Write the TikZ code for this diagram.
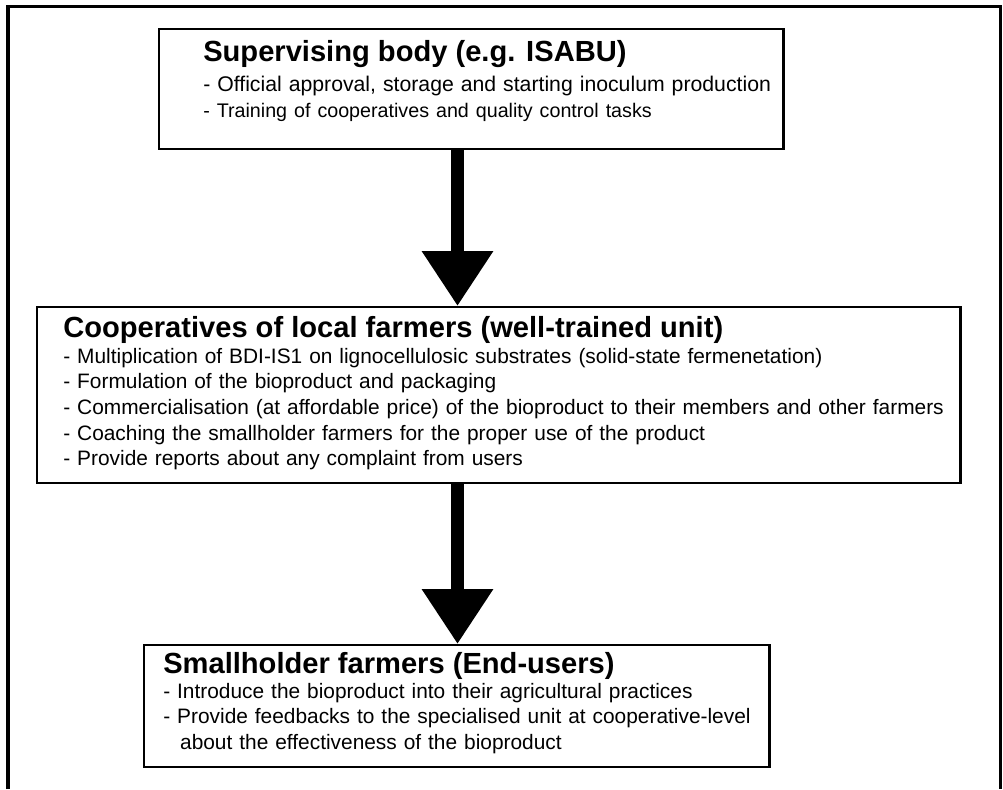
\documentclass[tikz,border=0pt]{standalone}
\usepackage{fontspec}
\setmainfont{Liberation Sans}
\usetikzlibrary{arrows.meta}

\tikzset{
  box/.style={draw, line width=1.7pt, anchor=north west, inner sep=0pt},
  boxtitle/.style={anchor=base west, inner sep=0pt, font=\fontsize{20.7}{25}\selectfont\bfseries},
  boxitems/.style={anchor=base west, inner sep=0pt, align=left, font=\fontsize{14.85}{18.2}\selectfont},
  flow/.style={line width=9.25pt, -{Triangle[width=48.4pt,length=39.1pt]}}
}

\begin{document}
\begin{tikzpicture}[x=0.025cm,y=-0.025cm]
  \useasboundingbox (0,0) rectangle (1003,789);
  % open frame, no bottom edge
  \draw[line width=2.2pt] (8,789) -- (8,6.5) -- (1000.5,6.5) -- (1000.5,789);

  % supervising body
  \node[box, minimum width=15.6cm, minimum height=3cm] (sup) at (158,28) {};
  \node[boxtitle] (suptitle) at (203,61.7) {Supervising body (e.g. ISABU)};
  \node[boxitems, text width=14.5cm] (supitems) at (203,91.7)
    {\fontsize{15.1}{18.9}\selectfont - Official approval, storage and starting inoculum production\\
     \fontsize{14}{18.9}\selectfont - Training of cooperatives and quality control tasks};

  % cooperatives
  \node[box, minimum width=23.075cm, minimum height=4.4cm] (coop) at (36,306) {};
  \node[boxtitle] (cooptitle) at (63,337.3) {Cooperatives of local farmers (well-trained unit)};
  \node[boxitems, text width=22.5cm] (coopitems) at (63,363.3)
    {- Multiplication of BDI-IS1 on lignocellulosic substrates (solid-state fermenetation)\\
     - Formulation of the bioproduct and packaging\\
     - Commercialisation (at affordable price) of the bioproduct to their members and other farmers\\
     - Coaching the smallholder farmers for the proper use of the product\\
     - Provide reports about any complaint from users};

  % end-users
  \node[box, minimum width=15.625cm, minimum height=3.05cm] (farm) at (143,644) {};
  \node[boxtitle] (farmtitle) at (163,673.3) {Smallholder farmers (End-users)};
  \node[boxitems, text width=15cm] (farmitems) at (163,698.3)
    {- Introduce the bioproduct into their agricultural practices\\
     - Provide feedbacks to the specialised unit at cooperative-level\\
     \hspace*{12pt}about the effectiveness of the bioproduct};

  % arrows down the chain
  \coordinate (spine) at (457.5,0);
  \draw[flow] (sup.south -| spine) -- (coop.north -| spine);
  \draw[flow] (coop.south -| spine) -- (farm.north -| spine);
\end{tikzpicture}
\end{document}
